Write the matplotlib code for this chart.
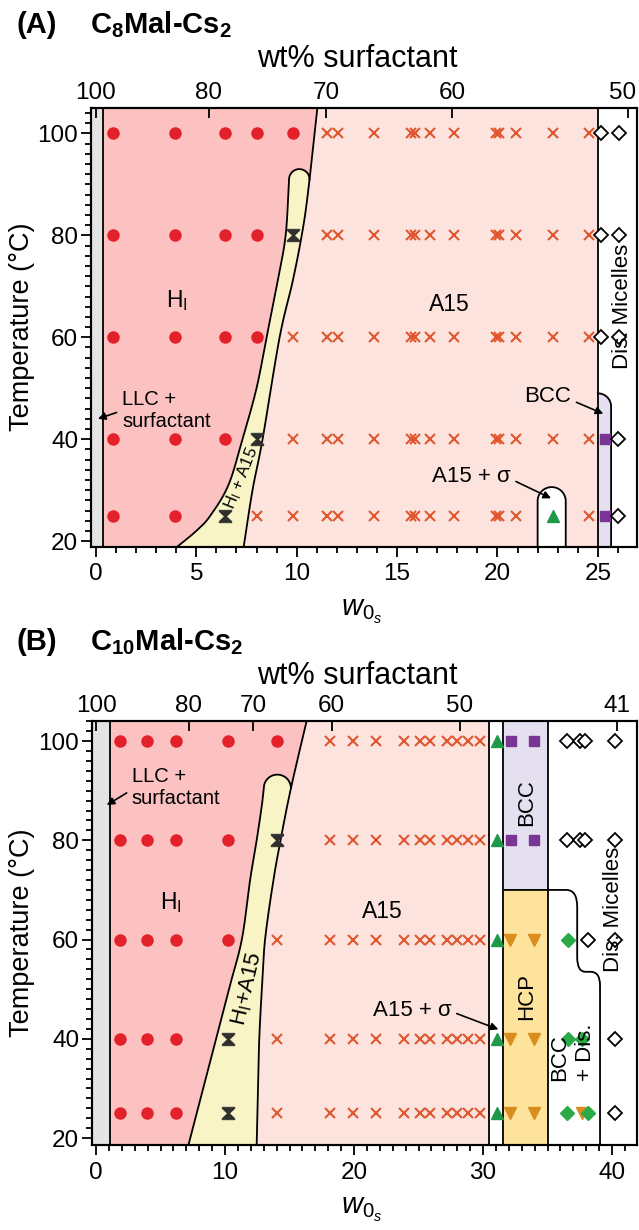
import numpy as np
import matplotlib
matplotlib.use("Agg")
import matplotlib.pyplot as plt
from matplotlib.path import Path
from matplotlib.patches import Polygon, PathPatch
from matplotlib.ticker import MultipleLocator

plt.rcParams['font.family'] = ['Liberation Sans', 'DejaVu Sans']
plt.rcParams['mathtext.fontset'] = 'custom'
plt.rcParams['mathtext.rm'] = 'Liberation Sans'
plt.rcParams['mathtext.it'] = 'Liberation Sans:italic'
plt.rcParams['mathtext.bf'] = 'Liberation Sans:bold'

W, H = 639, 1230

# ---------------- Panel A : C8Mal-Cs2 ----------------
a_xlim = (-0.26, 26.95)
a_ylim = (18.9, 105.0)
a_top_pos = [0, 5.62, 11.47, 17.75, 26.5]
a_top_lab = ['100', '80', '70', '60', '50']

a_hex_w = [0.86, 3.93, 6.42, 8.0, 9.82, 0.86, 3.93, 6.42, 8.0,
           0.86, 3.93, 6.42, 8.0, 0.86, 3.93, 6.42, 0.86, 3.93]
a_hex_T = [100] * 5 + [80] * 4 + [60] * 4 + [40] * 3 + [25] * 2

a_a15_100 = [11.5, 12.05, 13.83, 15.68, 15.9, 16.65, 17.83, 19.93, 20.1, 20.9, 22.79, 24.58]
a_a15_80 = [11.5, 12.05, 13.83, 15.68, 15.9, 16.65, 17.83, 19.93, 20.1, 20.9, 22.79, 24.58]
a_a15_60 = [9.82, 11.5, 12.05, 13.83, 15.68, 15.9, 16.65, 17.83, 19.93, 20.1, 20.9, 22.79, 24.58]
a_a15_40 = [9.82, 11.5, 12.05, 13.83, 15.68, 15.9, 16.65, 17.83, 19.93, 20.1, 20.9, 22.79, 24.58]
a_a15_25 = [8.0, 9.82, 11.5, 12.05, 13.83, 15.68, 15.9, 16.65, 17.83, 19.93, 20.1, 20.9, 24.58]

a_coex_w = [9.82, 8.0, 6.42]
a_coex_T = [80, 40, 25]
a_sigma_w = [22.79]
a_sigma_T = [25]
a_bcc_w = [25.37, 25.37]
a_bcc_T = [40, 25]
a_dis_w = [25.16, 26.03, 25.16, 26.03, 25.16, 26.03, 25.99, 25.99]
a_dis_T = [100, 100, 80, 80, 60, 60, 40, 25]

# phase boundaries (w0, T)
a_llc_edge = 0.36
a_line_w = [7.36, 7.8, 8.3, 9.15, 9.8, 10.25, 10.55, 11.03]
a_line_T = [18.9, 30, 40, 60, 71, 80, 88, 105]
a_left_w = [4.05, 5.0, 5.7, 6.6, 7.3, 8.0, 8.5, 9.05, 9.45, 9.62]
a_left_T = [18.9, 22, 25, 31, 40, 50, 60, 71, 80, 91.0]
a_a15_edge = 25.0
a_sig_box = (22.0, 23.4, 30.6)     # left, right, top
a_bcc_box = (25.0, 25.66, 49.0)

# ---------------- Panel B : C10Mal-Cs2 ----------------
b_xlim = (-0.34, 41.96)
b_ylim = (18.6, 104.1)
b_top_pos = [0, 7.2, 12.2, 18.27, 28.2, 40.36]
b_top_lab = ['100', '80', '70', '60', '50', '41']

b_hex_w = [1.86, 3.93, 6.2, 10.26, 14.0, 1.86, 3.93, 6.2, 10.26,
           1.86, 3.93, 6.2, 10.2, 1.86, 3.93, 6.2, 1.86, 3.93, 6.2]
b_hex_T = [100] * 5 + [80] * 4 + [60] * 4 + [40] * 3 + [25] * 3

b_a15_100 = [18.14, 19.9, 21.7, 23.88, 25.1, 25.9, 27.24, 28.0, 28.86, 29.77]
b_a15_80 = [18.14, 19.9, 21.7, 23.88, 25.1, 25.9, 27.24, 28.0, 28.86, 29.77]
b_a15_60 = [14.0, 18.14, 19.9, 21.7, 23.88, 25.1, 25.9, 27.24, 28.0, 28.86, 29.77]
b_a15_40 = [14.0, 18.14, 19.9, 21.7, 23.88, 25.1, 25.9, 27.24, 28.0, 28.86, 29.77]
b_a15_25 = [14.0, 18.14, 19.9, 21.7, 23.88, 25.1, 25.9, 27.24, 28.0, 28.86, 29.77]

b_coex_w = [14.0, 10.2, 10.2]
b_coex_T = [80, 40, 25]
b_sigma_w = [31.06] * 5
b_sigma_T = [100, 80, 60, 40, 25]
b_bcc_w = [32.17, 33.98, 32.17, 33.98]
b_bcc_T = [100, 100, 80, 80]
b_hcp_w = [32.1, 33.98, 32.1, 33.98, 32.1, 33.98, 37.7]
b_hcp_T = [60, 60, 40, 40, 25, 25, 25]
b_bccdis_w = [36.6, 36.6, 37.65, 36.5, 38.16]
b_bccdis_T = [60, 40, 40, 25, 25]
b_dis_w = [36.49, 37.55, 37.9, 40.2, 36.49, 37.55, 37.9, 40.2, 38.16, 40.2, 40.2, 40.2]
b_dis_T = [100, 100, 100, 100, 80, 80, 80, 80, 60, 60, 40, 25]

b_llc_edge = 1.08
b_line_w = [12.45, 12.55, 12.65, 12.85, 13.1, 13.75, 14.3, 14.9, 15.5, 16.33]
b_line_T = [18.6, 30, 40, 50, 60, 72, 80, 88, 95, 104.1]
b_left_w = [7.16, 8.3, 9.3, 10.3, 11.3, 11.94, 12.45, 12.85, 13.0]
b_left_T = [18.6, 30, 40, 50, 60, 72, 80, 87, 90.5]
b_a15_edge = 30.49
b_sig_edge = 31.57
b_hcp_edge = 35.0
b_hcp_top = 70.0
b_brace_x = 39.07

# colours
C_LLC = '#e4e4e4'
C_HEX = '#fbc2c1'
C_A15 = '#fde3de'
C_COEX = '#f8f4c6'
C_BCC = '#e5e0f0'
C_HCP = '#fde39b'
M_RED = '#e3212a'
M_X = '#e0572f'
M_GREEN = '#1d9a49'
M_PURP = '#7a3494'
M_ORNG = '#d98d1c'
M_GDIA = '#2aab47'

hourglass = Path([(-1, 1), (1, 1), (1, 0.8), (0.15, 0), (1, -0.8), (1, -1), (-1, -1),
                  (-1, -0.8), (-0.15, 0), (-1, 0.8), (-1, 1)],
                 [Path.MOVETO] + [Path.LINETO] * 9 + [Path.CLOSEPOLY])

fig = plt.figure(figsize=(W / 100, H / 100), dpi=100)


def px_axes(l, t, r, b):
    return fig.add_axes([l / W, 1 - b / H, (r - l) / W, (b - t) / H])


def smooth(xs, ys, n=16):
    P = np.column_stack([xs, ys]).astype(float)
    P = np.vstack([2 * P[0] - P[1], P, 2 * P[-1] - P[-2]])
    out = []
    t = np.linspace(0, 1, n, endpoint=False)[:, None]
    for i in range(1, len(P) - 2):
        p0, p1, p2, p3 = P[i - 1], P[i], P[i + 1], P[i + 2]
        out.append(0.5 * ((2 * p1) + (-p0 + p2) * t + (2 * p0 - 5 * p1 + 4 * p2 - p3) * t ** 2
                          + (-p0 + 3 * p1 - 3 * p2 + p3) * t ** 3))
    out.append(P[-2][None, :])
    return np.vstack(out)


def yx_ratio(ax):
    pos = ax.get_position()
    x0, x1 = ax.get_xlim()
    y0, y1 = ax.get_ylim()
    return (pos.width * W / (x1 - x0)) / (pos.height * H / (y1 - y0))


def style_axes(ax, xmajor, top_pos, top_lab, shift_last=False):
    for s in ax.spines.values():
        s.set_linewidth(1.5)
    ax.xaxis.set_major_locator(MultipleLocator(xmajor))
    ax.xaxis.set_minor_locator(MultipleLocator(1))
    ax.set_yticks([20, 40, 60, 80, 100])
    ax.yaxis.set_minor_locator(MultipleLocator(2))
    ax.tick_params(which='both', direction='out', width=1.3, top=False, right=False)
    ax.tick_params(which='major', length=7, labelsize=17.5)
    ax.tick_params(which='minor', length=4)
    ax.tick_params(axis='x', pad=5)
    ax.tick_params(axis='y', pad=2)
    axt = ax.twiny()
    axt.set_xlim(ax.get_xlim())
    axt.set_xticks(top_pos)
    labels = list(top_lab)
    if shift_last:
        # the last label sits against the figure edge: draw it nudged inward
        axt.annotate(labels[-1], xy=(top_pos[-1], 1), xycoords=axt.get_xaxis_transform(),
                     xytext=(-4, 10.5), textcoords='offset points', ha='center', va='center',
                     fontsize=17.5, annotation_clip=False)
        labels[-1] = ''
    axt.set_xticklabels(labels)
    axt.tick_params(direction='in', length=7, width=1.3, labelsize=17.5, pad=3)
    for s in axt.spines.values():
        s.set_linewidth(1.5)
    return axt


def tongue(ax, left_w, left_T, line_w, line_T):
    r = yx_ratio(ax)
    left = smooth(left_w, left_T)
    line = smooth(line_w, line_T)
    tb = left[-1, 1]
    xl = left[-1, 0]
    xr = np.interp(tb, line[:, 1], line[:, 0])
    xc, rx = (xl + xr) / 2, (xr - xl) / 2
    th = np.linspace(np.pi, 0, 40)
    arc = np.column_stack([xc + rx * np.cos(th), tb + rx * r * np.sin(th)])
    below = line[line[:, 1] < tb][::-1]
    poly = np.vstack([left, arc, [[xr, tb]], below])
    ax.add_patch(Polygon(poly, closed=True, facecolor=C_COEX, edgecolor='none', zorder=1))
    outline = np.vstack([left, arc])
    ax.plot(outline[:, 0], outline[:, 1], color='k', lw=1.3, zorder=2)
    ax.plot(line[:, 0], line[:, 1], color='k', lw=1.3, zorder=2)


def rows(ax, lists, temps, **kw):
    for xs, T in zip(lists, temps):
        ax.plot(xs, [T] * len(xs), linestyle='none', zorder=3, **kw)


kx = dict(marker='x', color=M_X, ms=7.5, mew=1.5)
kc = dict(marker='o', color=M_RED, ms=9, mew=0)
kh = dict(marker=hourglass, color='#2f2f2f', mec='#2f2f2f', ms=9, mew=0.6)
kdia = dict(marker='D', mfc='white', mec='k', ms=7, mew=1.3)
arrow = dict(arrowstyle='-|>', color='k', lw=1.2, mutation_scale=11, shrinkA=2, shrinkB=0)

# ======================= Panel A =======================
axA = px_axes(90.7, 108, 637, 546.7)
axA.set_xlim(a_xlim)
axA.set_ylim(a_ylim)
style_axes(axA, 5, a_top_pos, a_top_lab, shift_last=True)
y0, y1 = a_ylim
line = smooth(a_line_w, a_line_T)
axA.axvspan(a_xlim[0], a_llc_edge, color=C_LLC, zorder=0, lw=0)
axA.add_patch(Polygon(np.vstack([[[a_llc_edge, y0], [a_llc_edge, y1]], line[::-1]]),
                      facecolor=C_HEX, edgecolor='none', zorder=0))
axA.add_patch(Polygon(np.vstack([line, [[a_a15_edge, y1], [a_a15_edge, y0]]]),
                      facecolor=C_A15, edgecolor='none', zorder=0))
tongue(axA, a_left_w, a_left_T, a_line_w, a_line_T)
axA.axvline(a_llc_edge, color='k', lw=1.3, zorder=2)
axA.axvline(a_a15_edge, color='k', lw=1.3, zorder=2)

rA = yx_ratio(axA)
# A15 + sigma pocket
l, rgt, top = a_sig_box
rx = (rgt - l) / 2
base = top - rx * rA
th = np.linspace(np.pi, 0, 40)
pts = np.vstack([[[l, y0]], np.column_stack([l + rx + rx * np.cos(th), base + rx * rA * np.sin(th)]), [[rgt, y0]]])
axA.add_patch(Polygon(pts, facecolor='white', edgecolor='none', zorder=1))
axA.plot(pts[:, 0], pts[:, 1], color='k', lw=1.3, zorder=2)
# BCC sliver
l, rgt, top = a_bcc_box
rx = rgt - l
base = top - rx * rA
th = np.linspace(0, np.pi / 2, 30)
cap = np.column_stack([l + rx * np.cos(th), base + rx * rA * np.sin(th)])
pts = np.vstack([[[rgt, y0]], cap])
axA.add_patch(Polygon(np.vstack([pts, [[l, y0]]]), facecolor=C_BCC, edgecolor='none', zorder=1))
axA.plot(pts[:, 0], pts[:, 1], color='k', lw=1.3, zorder=2)

axA.plot(a_hex_w, a_hex_T, linestyle='none', zorder=3, **kc)
rows(axA, [a_a15_100, a_a15_80, a_a15_60, a_a15_40, a_a15_25], [100, 80, 60, 40, 25], **kx)
axA.plot(a_coex_w, a_coex_T, linestyle='none', zorder=3, **kh)
axA.plot(a_sigma_w, a_sigma_T, linestyle='none', marker='^', color=M_GREEN, ms=8.5, zorder=3)
axA.plot(a_bcc_w, a_bcc_T, linestyle='none', marker='s', color=M_PURP, ms=7.5, zorder=3)
axA.plot(a_dis_w, a_dis_T, linestyle='none', zorder=3, **kdia)

axA.text(3.5, 67.3, r'H$_\mathrm{I}$', fontsize=16.5, va='center', ha='left', zorder=4)
axA.text(17.6, 66.5, 'A15', fontsize=16.5, va='center', ha='center', zorder=4)
axA.text(7.28, 32.3, r'H$_\mathrm{I}$ + A15', fontsize=12, rotation=68, va='center', ha='center',
         rotation_mode='anchor', zorder=4)
axA.annotate('LLC +\nsurfactant', xy=(0.1, 44.0), xytext=(1.3, 45.6), fontsize=14.5,
             ha='left', va='center', zorder=4,
             arrowprops=dict(arrow, relpos=(0, 0.5)))
axA.annotate('BCC', xy=(25.27, 45.0), xytext=(22.5, 48.3), fontsize=16, ha='center', va='center',
             zorder=4, arrowprops=dict(arrow, relpos=(1, 0.35)))
axA.annotate('A15 + σ', xy=(22.67, 28.4), xytext=(18.7, 32.6), fontsize=16, ha='center', va='center',
             zorder=4, arrowprops=dict(arrow, relpos=(1, 0.4)))
axA.text(26.25, 66.0, 'Dis. Micelles', fontsize=16, rotation=90, ha='center', va='center', zorder=4)

# ======================= Panel B =======================
axB = px_axes(91.7, 720.7, 637.3, 1145)
axB.set_xlim(b_xlim)
axB.set_ylim(b_ylim)
style_axes(axB, 10, b_top_pos, b_top_lab)
y0, y1 = b_ylim
line = smooth(b_line_w, b_line_T)
axB.axvspan(b_xlim[0], b_llc_edge, color=C_LLC, zorder=0, lw=0)
axB.add_patch(Polygon(np.vstack([[[b_llc_edge, y0], [b_llc_edge, y1]], line[::-1]]),
                      facecolor=C_HEX, edgecolor='none', zorder=0))
axB.add_patch(Polygon(np.vstack([line, [[b_a15_edge, y1], [b_a15_edge, y0]]]),
                      facecolor=C_A15, edgecolor='none', zorder=0))
tongue(axB, b_left_w, b_left_T, b_line_w, b_line_T)
axB.axvspan(b_sig_edge, b_hcp_edge, ymin=0, ymax=(b_hcp_top - y0) / (y1 - y0), color=C_HCP, lw=0, zorder=0)
axB.axvspan(b_sig_edge, b_hcp_edge, ymin=(b_hcp_top - y0) / (y1 - y0), ymax=1, color=C_BCC, lw=0, zorder=0)
for xv in (b_llc_edge, b_a15_edge, b_sig_edge, b_hcp_edge):
    axB.axvline(xv, color='k', lw=1.3, zorder=2)

brace = Path([(b_sig_edge, b_hcp_top), (36.45, b_hcp_top), (37.3, b_hcp_top), (37.3, 66.6),
              (37.3, 56.4), (37.3, 53.5), (37.95, 53.5), (38.35, 53.5), (b_brace_x, 53.5),
              (b_brace_x, 50.8), (b_brace_x, y0)],
             [Path.MOVETO, Path.LINETO, Path.CURVE3, Path.CURVE3, Path.LINETO, Path.CURVE3,
              Path.CURVE3, Path.LINETO, Path.CURVE3, Path.CURVE3, Path.LINETO])
axB.add_patch(PathPatch(brace, facecolor='none', edgecolor='k', lw=1.3, zorder=2))

axB.plot(b_hex_w, b_hex_T, linestyle='none', zorder=3, **kc)
rows(axB, [b_a15_100, b_a15_80, b_a15_60, b_a15_40, b_a15_25], [100, 80, 60, 40, 25], **kx)
axB.plot(b_coex_w, b_coex_T, linestyle='none', zorder=3, **kh)
axB.plot(b_sigma_w, b_sigma_T, linestyle='none', marker='^', color=M_GREEN, ms=8.5, zorder=3)
axB.plot(b_bcc_w, b_bcc_T, linestyle='none', marker='s', color=M_PURP, ms=7.5, zorder=3)
axB.plot(b_hcp_w, b_hcp_T, linestyle='none', marker='v', color=M_ORNG, ms=8.5, zorder=3)
axB.plot(b_bccdis_w, b_bccdis_T, linestyle='none', marker='D', color=M_GDIA, ms=7.5, zorder=3)
axB.plot(b_dis_w, b_dis_T, linestyle='none', zorder=3, **kdia)

axB.text(4.96, 67.4, r'H$_\mathrm{I}$', fontsize=16.5, va='center', ha='left', zorder=4)
axB.text(22.2, 65.7, 'A15', fontsize=16.5, va='center', ha='center', zorder=4)
axB.text(11.7, 50.0, r'H$_\mathrm{I}$+A15', fontsize=16, rotation=77, va='center', ha='center',
         rotation_mode='anchor', zorder=4)
axB.annotate('LLC +\nsurfactant', xy=(0.83, 87.1), xytext=(2.77, 90.6), fontsize=14.5,
             ha='left', va='center', zorder=4, arrowprops=dict(arrow, relpos=(0, 0.45)))
axB.annotate('A15 + σ', xy=(31.19, 41.9), xytext=(24.5, 45.7), fontsize=16, ha='center', va='center',
             zorder=4, arrowprops=dict(arrow, relpos=(1, 0.45)))
axB.text(33.4, 87.6, 'BCC', fontsize=16, rotation=90, ha='center', va='center', zorder=4)
axB.text(33.4, 48.6, 'HCP', fontsize=16, rotation=90, ha='center', va='center', zorder=4)
axB.text(36.95, 37.2, 'BCC\n+ Dis.', fontsize=16, rotation=90, ha='center', va='center',
         multialignment='left', linespacing=1.35, zorder=4)
axB.text(40.1, 66.0, 'Dis. Micelles', fontsize=16, rotation=90, ha='center', va='center', zorder=4)

# ---------------- figure-level titles and labels ----------------
for off, tag, name in [(0, '(A)', r'C$_\mathbf{8}$Mal-Cs$_\mathbf{2}$'),
                       (617, '(B)', r'C$_\mathbf{10}$Mal-Cs$_\mathbf{2}$')]:
    fig.text(16 / W, 1 - (33 + off) / H, tag, fontsize=21, fontweight='bold', va='baseline')
    fig.text(90 / W, 1 - (33 + off) / H, name, fontsize=21, fontweight='bold', va='baseline')

fig.text(357 / W, 1 - 67 / H, 'wt% surfactant', fontsize=22, ha='center', va='baseline')
fig.text(357 / W, 1 - 684 / H, 'wt% surfactant', fontsize=22, ha='center', va='baseline')
fig.text(362 / W, 1 - 616 / H, r'$w_{0_s}$', fontsize=21, ha='center', va='baseline')
fig.text(362 / W, 1 - 1214 / H, r'$w_{0_s}$', fontsize=21, ha='center', va='baseline')
fig.text(22 / W, 1 - 327 / H, 'Temperature (°C)', fontsize=19.5, rotation=90, ha='center', va='center')
fig.text(22 / W, 1 - 933 / H, 'Temperature (°C)', fontsize=19.5, rotation=90, ha='center', va='center')

fig.savefig('out.png', dpi=100)
